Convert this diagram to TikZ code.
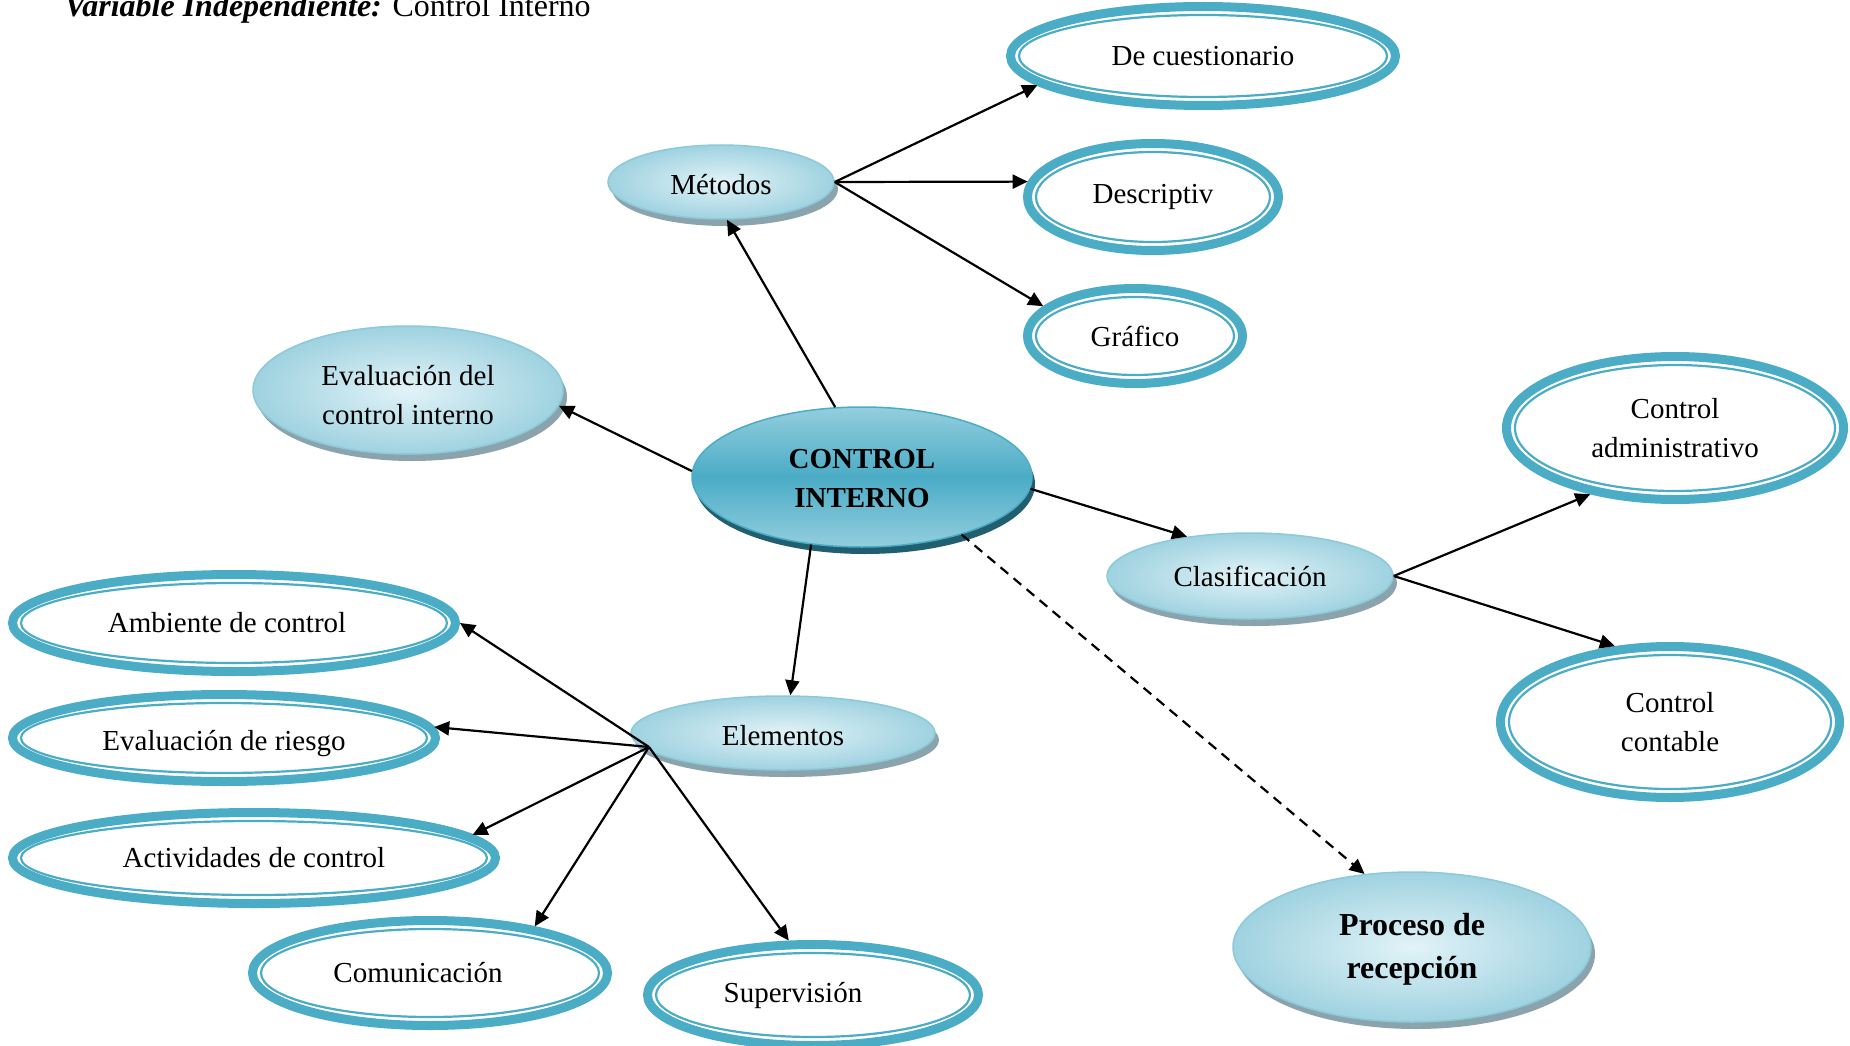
\documentclass[tikz,border=0pt]{standalone}
\usepackage{fontspec}
\setmainfont{Liberation Serif}
\usetikzlibrary{shapes.geometric,arrows.meta,shadows}
\definecolor{ringc}{HTML}{4BACC6}
\definecolor{softin}{HTML}{E2F3F8}
\definecolor{softout}{HTML}{9FD2E0}
\definecolor{softedge}{HTML}{8CCADB}
\definecolor{softshadow}{HTML}{8AA3AC}
\definecolor{ciedge}{HTML}{4BACC6}
\definecolor{citop}{HTML}{93CEDE}
\definecolor{cimid}{HTML}{4BACC6}
\definecolor{cishadow}{HTML}{215E70}
\newcommand\dblnode[6]{%
  \node[dbl, minimum width={2*#4-9}, minimum height={2*#5-9}] (#1) at (#2,#3) {#6};
  \draw[dblin] (#1.center) ellipse [x radius={#4-13}, y radius={#5-13}];
}
\begin{document}
\begin{tikzpicture}[x=1pt,y=-1pt,
  font=\fontsize{29}{39}\selectfont,
  dbl/.style={ellipse, inner sep=0pt, align=center, draw=ringc, line width=9pt, fill=white},
  dblin/.style={draw=ringc, line width=2.2pt},
  soft/.style={ellipse, inner sep=0pt, align=center, draw=softedge, line width=1.5pt,
    inner color=softin, outer color=softout,
    drop shadow={shadow xshift=4pt, shadow yshift=-7pt, fill=softshadow, opacity=1}},
  core/.style={ellipse, inner sep=0pt, align=center, draw=ciedge, line width=1.5pt,
    top color=citop, bottom color=citop, middle color=cimid,
    drop shadow={shadow xshift=3pt, shadow yshift=-7pt, fill=cishadow, opacity=1},
    font=\fontsize{29}{39}\selectfont\bfseries},
  arr/.style={line width=2.2pt, -{Triangle[length=15pt,width=14pt]}},
  dasharr/.style={arr, dash pattern=on 10pt off 7pt}
]
\useasboundingbox (0,0) rectangle (1850,1046);
\fill[white] (0,0) rectangle (1850,1046);

\node[anchor=base west, font=\fontsize{32}{38}\selectfont] (title) at (61,17)
  {\textbf{\textit{Variable Independiente:}} Control Interno};

% soft nodes
\node[soft, minimum width=226, minimum height=74] (met) at (721,182) {\rule{0pt}{25pt}Métodos};
\node[soft, minimum width=310, minimum height=128] (evc) at (408,390) {\rule{0pt}{30pt}Evaluación del\\control interno};
\node[soft, minimum width=286, minimum height=86] (cla) at (1250,576) {\rule{0pt}{22pt}Clasificación};
\node[soft, minimum width=304, minimum height=74] (ele) at (783,733) {\rule{0pt}{25pt}Elementos};
\node[soft, minimum width=358, minimum height=150, font=\fontsize{32}{43}\selectfont\bfseries] (pro) at (1412,947) {\rule{0pt}{27pt}Proceso de\\recepción};
\node[core, minimum width=340, minimum height=140] (ci) at (862,477) {\rule{0pt}{22pt}CONTROL\\INTERNO};

% double ring nodes
\dblnode{cue}{1203}{56}{197}{54}{De cuestionario}
\dblnode{des}{1153}{197}{130}{58}{Descriptiv}
\dblnode{gra}{1135}{336}{112}{52}{Gráfico}
\dblnode{adm}{1675}{428}{173}{76}{Control\\administrativo}
\dblnode{con}{1670}{722}{174}{80}{Control\\contable}
\dblnode{amb}{234}{623}{226}{53}{\hspace*{-14pt}Ambiente de control}
\dblnode{evr}{224}{738}{216}{48}{\rule{0pt}{32pt}Evaluación de riesgo}
\dblnode{act}{254}{858}{246}{50}{Actividades de control}
\dblnode{com}{430}{973}{182}{57}{\hspace*{-24pt}Comunicación}
\dblnode{sup}{813}{995}{170}{55}{\hspace*{-40pt}Supervisión}

\coordinate (hub) at (649,747);

% connectors
\draw[arr] (ci.111) -- (met.-81);
\draw[arr] (ci.178) -- (evc.-6);
\draw[arr] (ci.-4) -- (cla.148);
\draw[arr] (ci.-127) -- (ele.79);
\draw[dasharr] (ci.-30) -- (pro.123);
\draw[arr] (met.east) -- (cue.-170);
\draw[arr] (met.east) -- (des.173);
\draw[arr] (met.east) -- (gra.162);
\draw[arr] (cla.east) -- (adm.-142);
\draw[arr] (cla.east) -- (con.126);
\draw[arr] (hub) -- (amb.east);
\draw[arr] (hub) -- (evr.3);
\draw[arr] (hub) -- (act.6);
\draw[arr] (hub) -- (com.24);
\draw[arr] (hub) -- (sup.114);
\end{tikzpicture}
\end{document}
